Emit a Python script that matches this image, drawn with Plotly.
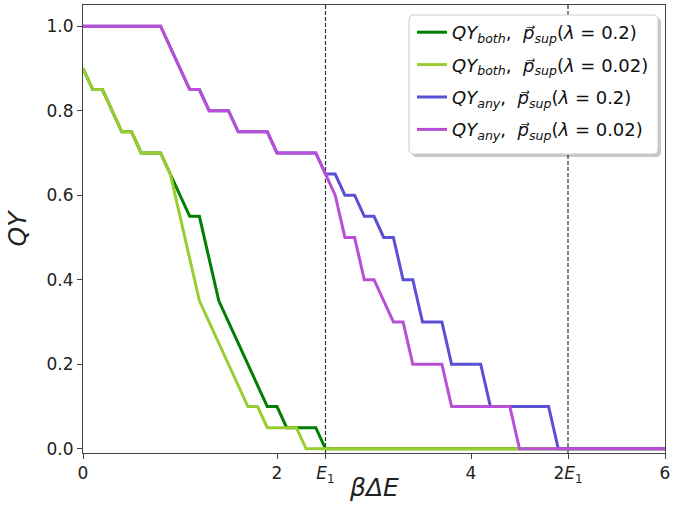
import plotly.graph_objects as go

# Quantum yield vs. beta*DeltaE for the two suppression strengths
both_strong_x = [0, 0.1, 0.2, 0.4, 0.5, 0.6, 0.8, 0.9, 1.1, 1.2, 1.4, 1.9, 2.0, 2.1, 2.4, 2.5, 6]
both_strong_y = [0.9, 0.85, 0.85, 0.75, 0.75, 0.7, 0.7, 0.65, 0.55, 0.55, 0.35, 0.1, 0.1, 0.05, 0.05, 0, 0]

both_weak_x = [0, 0.1, 0.2, 0.4, 0.5, 0.6, 0.8, 0.9, 1.2, 1.7, 1.8, 1.9, 2.2, 2.3, 6]
both_weak_y = [0.9, 0.85, 0.85, 0.75, 0.75, 0.7, 0.7, 0.65, 0.35, 0.1, 0.1, 0.05, 0.05, 0, 0]

any_strong_x = [0, 0.8, 1.1, 1.2, 1.3, 1.5, 1.6, 1.9, 2.0, 2.4, 2.5, 2.6, 2.7, 2.8, 2.9, 3.0,
                3.1, 3.2, 3.3, 3.4, 3.5, 3.7, 3.8, 4.1, 4.2, 4.8, 4.9, 6]
any_strong_y = [1, 1, 0.85, 0.85, 0.8, 0.8, 0.75, 0.75, 0.7, 0.7, 0.65, 0.65, 0.6, 0.6, 0.55, 0.55,
                0.5, 0.5, 0.4, 0.4, 0.3, 0.3, 0.2, 0.2, 0.1, 0.1, 0, 0]

any_weak_x = [0, 0.8, 1.1, 1.2, 1.3, 1.5, 1.6, 1.9, 2.0, 2.4, 2.6, 2.7, 2.8, 2.9, 3.0, 3.2,
              3.3, 3.4, 3.7, 3.8, 4.4, 4.5, 6]
any_weak_y = [1, 1, 0.85, 0.85, 0.8, 0.8, 0.75, 0.75, 0.7, 0.7, 0.6, 0.5, 0.5, 0.4, 0.4, 0.3,
              0.3, 0.2, 0.2, 0.1, 0.1, 0, 0]

E1 = 2.5
ref_lines = [E1, 2 * E1]

x_tickvals = [0, 2, E1, 4, 2 * E1, 6]
x_ticktext = ["0", "2", "<i>E</i><sub>1</sub>", "4", "2<i>E</i><sub>1</sub>", "6"]
y_tickvals = [0.0, 0.2, 0.4, 0.6, 0.8, 1.0]
y_ticktext = ["0.0", "0.2", "0.4", "0.6", "0.8", "1.0"]

VEC_P = "<i>p\u20d7</i><sub><i>sup</i></sub>"
series = [
    (both_strong_x, both_strong_y, "#008000", "both", "0.2"),
    (both_weak_x, both_weak_y, "#9acd32", "both", "0.02"),
    (any_strong_x, any_strong_y, "#5b4fd3", "any", "0.2"),
    (any_weak_x, any_weak_y, "#b94fd6", "any", "0.02"),
]

FONT = "DejaVu Sans"
fig = go.Figure()

for i, (xs, ys, color, kind, lam) in enumerate(series):
    name = (f"<i>QY</i><sub><i>{kind}</i></sub>,  {VEC_P}(<i>\u03bb</i> = {lam})")
    fig.add_trace(go.Scatter(
        x=xs, y=ys, mode="lines", name=name,
        line=dict(color=color, width=3),
        legendgroup=f"g{i}",
    ))

# dashed reference energies
for xv in ref_lines:
    fig.add_shape(type="line", xref="x", yref="paper", x0=xv, x1=xv, y0=0, y1=1,
                  line=dict(color="#333333", width=1.2, dash="4px,2px"), layer="below")

# legend frame with rounded corners and soft shadow
W, H = 582.0, 448.0
def rounded(x0, y0, x1, y1, r=5):
    rx, ry = r / W, r / H
    return (f"M {x0+rx},{y1} L {x1-rx},{y1} Q {x1},{y1} {x1},{y1-ry} "
            f"L {x1},{y0+ry} Q {x1},{y0} {x1-rx},{y0} L {x0+rx},{y0} "
            f"Q {x0},{y0} {x0},{y0+ry} L {x0},{y1-ry} Q {x0},{y1} {x0+rx},{y1} Z")

lx0, lx1 = (409 - 83) / W, (658 - 83) / W
ly1, ly0 = (453 - 15) / H, (453 - 154) / H
fig.add_shape(type="path", xref="paper", yref="paper",
              path=rounded(lx0 + 3 / W, ly0 - 3 / H, lx1 + 3 / W, ly1 - 3 / H),
              fillcolor="rgba(0,0,0,0.22)", line=dict(width=0), layer="above")
fig.add_shape(type="path", xref="paper", yref="paper",
              path=rounded(lx0, ly0, lx1, ly1),
              fillcolor="white", line=dict(color="#cccccc", width=1), layer="above")

# x-axis title placed just under the tick labels
fig.add_annotation(text="<i>\u03b2\u0394E</i>", xref="paper", yref="paper",
                   x=0.5, y=(453 - 487) / H, xanchor="center", yanchor="middle",
                   showarrow=False, font=dict(size=25, family=FONT, color="#222222"))

fig.update_layout(
    width=690, height=515,
    margin=dict(l=83, r=25, t=5, b=62),
    paper_bgcolor="white", plot_bgcolor="white",
    font=dict(family=FONT, size=17, color="#222222"),
    showlegend=True,
    legend=dict(
        x=(412 - 83) / W, y=(453 - 14) / H, xanchor="left", yanchor="top",
        bgcolor="rgba(0,0,0,0)", borderwidth=0,
        font=dict(family=FONT, size=18, color="#111111"),
        tracegroupgap=6,
    ),
    xaxis=dict(
        range=[0, 6], tickmode="array", tickvals=x_tickvals, ticktext=x_ticktext,
        ticks="outside", ticklen=5, tickwidth=1, tickcolor="#444444",
        tickfont=dict(size=17, family=FONT, color="#222222"),
        showline=True, linecolor="#444444", linewidth=1, mirror=True,
        showgrid=False, zeroline=False,
    ),
    yaxis=dict(
        range=[-0.01, 1.05], tickmode="array", tickvals=y_tickvals, ticktext=y_ticktext,
        ticks="outside", ticklen=5, tickwidth=1, tickcolor="#444444",
        tickfont=dict(size=17, family=FONT, color="#222222"),
        showline=True, linecolor="#444444", linewidth=1, mirror=True,
        showgrid=False, zeroline=False,
        title=dict(text="<i>QY</i>", font=dict(size=25, family=FONT), standoff=12),
    ),
)

fig.write_html("out.html")
